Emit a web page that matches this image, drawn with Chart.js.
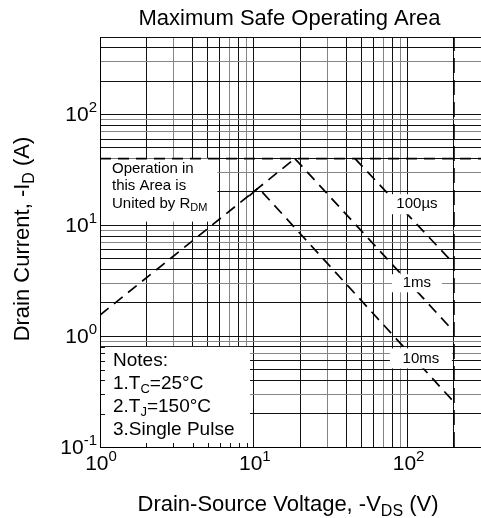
<!DOCTYPE html>
<html>
<head>
<meta charset="utf-8">
<script src="https://cdn.jsdelivr.net/npm/chart.js@4.4.1/dist/chart.umd.min.js"></script>
<style>
  html, body { margin: 0; padding: 0; background: #fff; }
</style>
</head>
<body>
<canvas id="soaChart" width="481" height="518"></canvas>
<script>
// decade tick labels (10^n)
var xDecadeValues = [1, 10, 100];
var xDecadeExponents = ['0', '1', '2'];
var yDecadeValues = [0.1, 1, 10, 100];
var yDecadeExponents = ['-1', '0', '1', '2'];

// curves: -VDS (V) / -ID (A)
var rdsLimitV = [1, 18.5];
var rdsLimitI = [1.55, 40];
var pulse100usV = [45.5, 200];
var pulse100usI = [40, 4.5];
var pulse1msV = [18.5, 200];
var pulse1msI = [40, 1.1];
var pulse10msV = [9.35, 10.7, 200];
var pulse10msI = [18.4, 21.8, 0.255];
var idLimitV = [1, 300];
var idLimitI = [40, 40];
var bvdssV = [200, 200];
var bvdssI = [0.1, 500];

var FONT = '"Liberation Sans", Arial, sans-serif';

function pairs(vs, is) {
    return vs.map(function (v, k) { return { x: v, y: is[k] }; });
}

// grid at 1..9 x 10^n
function logGrid(min, max) {
    var vals = [];
    for (var e = Math.floor(Math.log10(min)); Math.pow(10, e) <= max; e++) {
        for (var m = 1; m <= 9; m++) {
            var v = +(m * Math.pow(10, e)).toPrecision(3);
            if (v >= min && v <= max) vals.push(v);
        }
    }
    return vals;
}

function gridColor(ctx) {
    var v = ctx.tick ? ctx.tick.value : 1;
    var m = Math.round(v / Math.pow(10, Math.floor(Math.log10(v) + 1e-9)));
    return (m === 3 || m === 7 || m === 9) ? '#858585' : '#111';
}

// text with sub/superscript parts: [text, 'sub'|'sup']
function drawRich(c, parts, x, y, size, align, small) {
    small = small || Math.round(size * 0.68);
    var w = 0;
    parts.forEach(function (p) {
        c.font = (p[1] ? small : size) + 'px ' + FONT;
        w += c.measureText(p[0]).width;
    });
    var cx = align === 'center' ? x - w / 2 : (align === 'right' ? x - w : x);
    c.textAlign = 'left';
    c.textBaseline = 'middle';
    parts.forEach(function (p) {
        var dy = p[1] === 'sub' ? size * 0.3 : (p[1] === 'sup' ? -size * 0.36 : 0);
        c.font = (p[1] ? small : size) + 'px ' + FONT;
        c.fillText(p[0], cx, y + dy);
        cx += c.measureText(p[0]).width;
    });
}

var soaText = {
    id: 'soaText',
    beforeDatasetsDraw: function (chart) {
        var c = chart.ctx, sx = chart.scales.x, sy = chart.scales.y, a = chart.chartArea;
        var l = a.left + 1;
        c.save();
        c.fillStyle = '#fff';
        var rTop = sy.getPixelForValue(40), rBot = sy.getPixelForValue(10.8);
        c.fillRect(l, rTop, sx.getPixelForValue(5.8) - l, rBot - rTop);
        var nTop = sy.getPixelForValue(0.8), nRight = sx.getPixelForValue(9.45);
        c.fillRect(l, nTop, nRight - l, a.bottom - nTop);

        // small inner ticks along the notes box edges
        c.strokeStyle = '#111';
        c.lineWidth = 1;
        c.beginPath();
        logGrid(1, 300).forEach(function (v) {
            var px = Math.round(sx.getPixelForValue(v)) + 0.5;
            if (px > l && px < nRight) { c.moveTo(px, a.bottom); c.lineTo(px, a.bottom - 4); }
        });
        logGrid(0.1, 500).forEach(function (v) {
            var py = Math.round(sy.getPixelForValue(v)) + 0.5;
            if (py > nTop && py < a.bottom) { c.moveTo(l, py); c.lineTo(l + 4, py); }
        });
        c.stroke();

        c.fillStyle = '#000';
        drawRich(c, [['Operation in']], a.left + 12, rTop + 10, 15, 'left');
        drawRich(c, [['this Area is']], a.left + 12, rTop + 27.5, 15, 'left');
        drawRich(c, [['United by R'], ['DM', 'sub']], a.left + 12, rTop + 45, 15, 'left', 11);

        drawRich(c, [['Notes:']], a.left + 13, nTop + 14, 19, 'left');
        drawRich(c, [['1.T'], ['C', 'sub'], ['=25°C']], a.left + 13, nTop + 37, 19, 'left', 13);
        drawRich(c, [['2.T'], ['J', 'sub'], ['=150°C']], a.left + 13, nTop + 60, 19, 'left', 13);
        drawRich(c, [['3.Single Pulse']], a.left + 13, nTop + 83, 19, 'left');
        c.restore();
    },
    afterDatasetsDraw: function (chart) {
        var c = chart.ctx, sx = chart.scales.x, sy = chart.scales.y;
        var tags = [
            { t: '100µs', v: 115, i: 15.5, w: 65, h: 20 },
            { t: '1ms', v: 115, i: 3.0, w: 50, h: 18 },
            { t: '10ms', v: 122, i: 0.63, w: 62, h: 20 }
        ];
        c.save();
        tags.forEach(function (g) {
            var px = sx.getPixelForValue(g.v), py = sy.getPixelForValue(g.i);
            c.fillStyle = '#fff';
            c.fillRect(px - g.w / 2, py - g.h / 2, g.w, g.h);
            c.fillStyle = '#000';
            drawRich(c, [[g.t]], px, py, 15, 'center');
        });
        c.restore();
    },
    afterDraw: function (chart) {
        var c = chart.ctx, sx = chart.scales.x, sy = chart.scales.y, a = chart.chartArea;
        c.save();
        c.fillStyle = '#000';
        xDecadeValues.forEach(function (v, k) {
            drawRich(c, [['10'], [xDecadeExponents[k], 'sup']], sx.getPixelForValue(v) + 1, a.bottom + 17, 21, 'center', 15);
        });
        yDecadeValues.forEach(function (v, k) {
            drawRich(c, [['10'], [yDecadeExponents[k], 'sup']], a.left - 3, sy.getPixelForValue(v) + 1, 21, 'right', 15);
        });
        drawRich(c, [['Maximum Safe Operating Area']], (a.left + a.right) / 2 - 1, 19, 22, 'center');
        drawRich(c, [['Drain-Source Voltage, -V'], ['DS', 'sub'], [' (V)']], 288, 505, 22, 'center', 16);
        c.translate(23, 239);
        c.rotate(-Math.PI / 2);
        drawRich(c, [['Drain Current, -I'], ['D', 'sub'], [' (A)']], 0, 0, 22, 'center', 16);
        c.restore();
    }
};

function dashed(points, dash) {
    return {
        data: points,
        showLine: true,
        borderColor: '#000',
        borderWidth: 1.7,
        borderDash: dash || [11, 7],
        pointRadius: 0,
        fill: false
    };
}

var ctx = document.getElementById('soaChart').getContext('2d');
var soaChart = new Chart(ctx, {
    type: 'scatter',
    data: {
        datasets: [
            dashed(pairs(rdsLimitV, rdsLimitI)),
            dashed(pairs(idLimitV, idLimitI)),
            dashed(pairs(pulse100usV, pulse100usI)),
            dashed(pairs(pulse1msV, pulse1msI)),
            dashed(pairs(pulse10msV, pulse10msI)),
            dashed(pairs(bvdssV, bvdssI), [15, 7])
        ]
    },
    options: {
        responsive: false,
        devicePixelRatio: 1,
        animation: false,
        layout: { padding: { top: 37, left: 0, right: 0, bottom: 0 } },
        plugins: {
            legend: { display: false },
            tooltip: { enabled: false }
        },
        scales: {
            x: {
                type: 'logarithmic',
                min: 1,
                max: 300,
                afterBuildTicks: function (scale) {
                    scale.ticks = logGrid(1, 300).map(function (v) { return { value: v }; });
                },
                afterFit: function (scale) { scale.height = 71; },
                ticks: { display: false },
                grid: { color: gridColor, lineWidth: 1, drawTicks: false },
                border: { color: '#000', width: 1 }
            },
            y: {
                type: 'logarithmic',
                min: 0.1,
                max: 500,
                afterBuildTicks: function (scale) {
                    scale.ticks = logGrid(0.1, 500).map(function (v) { return { value: v }; });
                },
                afterFit: function (scale) { scale.width = 100; },
                ticks: { display: false },
                grid: { color: gridColor, lineWidth: 1, drawTicks: false },
                border: { color: '#000', width: 1 }
            }
        }
    },
    plugins: [soaText]
});
</script>
</body>
</html>
